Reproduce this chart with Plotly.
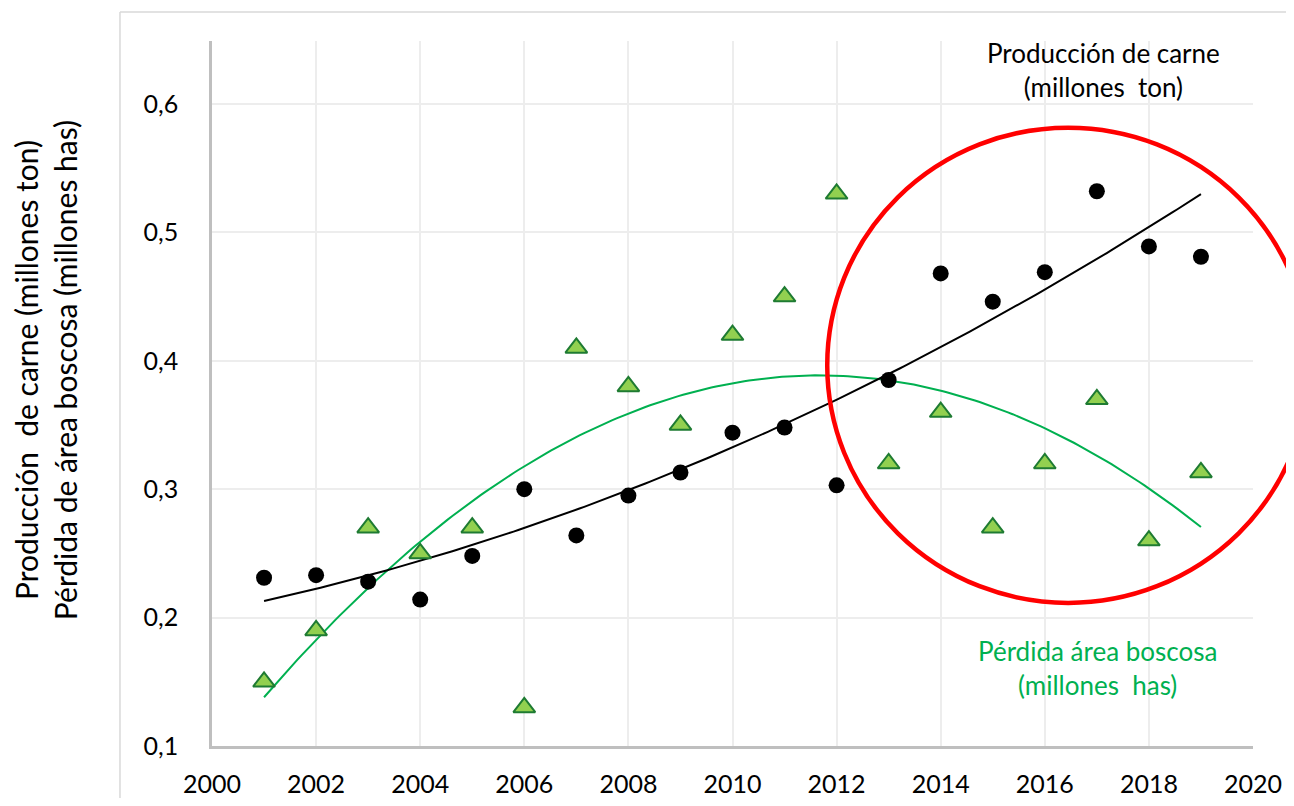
import numpy as np
import plotly.graph_objects as go

# Datos
years = [2001, 2002, 2003, 2004, 2005, 2006, 2007, 2008, 2009, 2010,
         2011, 2012, 2013, 2014, 2015, 2016, 2017, 2018, 2019]

carne = [0.231, 0.233, 0.228, 0.214, 0.248, 0.300, 0.264, 0.295, 0.313, 0.344,
         0.348, 0.303, 0.385, 0.468, 0.446, 0.469, 0.532, 0.489, 0.481]

bosque = [0.150, 0.190, 0.270, 0.250, 0.270, 0.130, 0.410, 0.380, 0.350, 0.420,
          0.450, 0.530, 0.320, 0.360, 0.270, 0.320, 0.370, 0.260, 0.313]

x_ticks = [2000, 2002, 2004, 2006, 2008, 2010, 2012, 2014, 2016, 2018, 2020]
y_ticks = [0.1, 0.2, 0.3, 0.4, 0.5, 0.6]

COLORS = {
    "black": "#000000",
    "green_line": "#00B050",
    "green_fill": "#92D050",
    "green_edge": "#1E7B32",
    "red": "#FF0000",
    "grid": "#EDEDED",
    "axis": "#BFBFBF",
    "border": "#D9D9D9",
}
FONT = "Lato, 'Open Sans', sans-serif"

# Líneas de tendencia polinómicas (orden 2), como en Excel
x_fit = np.linspace(years[0], years[-1], 200)
carne_fit = np.polyval(np.polyfit(years, carne, 2), x_fit)
bosque_fit = np.polyval(np.polyfit(years, bosque, 2), x_fit)

fig = go.Figure()

fig.add_trace(go.Scatter(
    x=x_fit, y=bosque_fit, mode="lines",
    line=dict(color=COLORS["green_line"], width=2),
    hoverinfo="skip",
))
fig.add_trace(go.Scatter(
    x=x_fit, y=carne_fit, mode="lines",
    line=dict(color=COLORS["black"], width=2),
    hoverinfo="skip",
))
fig.add_trace(go.Scatter(
    x=years, y=bosque, mode="markers",
    name="Pérdida área boscosa",
    marker=dict(symbol="triangle-up", size=19, color=COLORS["green_fill"],
                line=dict(color=COLORS["green_edge"], width=2)),
))
fig.add_trace(go.Scatter(
    x=years, y=carne, mode="markers",
    name="Producción de carne",
    marker=dict(symbol="circle", size=16, color=COLORS["black"]),
))

# Borde del área del gráfico (solo lados izquierdo y superior son visibles)
fig.add_shape(type="line", xref="paper", yref="paper",
              x0=-0.0884, x1=-0.0884, y0=-0.3, y1=1.041,
              line=dict(color=COLORS["border"], width=1.5), layer="below")
fig.add_shape(type="line", xref="paper", yref="paper",
              x0=-0.0884, x1=1.3, y0=1.041, y1=1.041,
              line=dict(color=COLORS["border"], width=1.5), layer="below")

# Círculo rojo
fig.add_shape(type="circle", xref="paper", yref="paper",
              x0=0.591, x1=1.054, y0=0.203, y1=0.877,
              line=dict(color=COLORS["red"], width=4.5), layer="above")

fig.add_annotation(
    text="Producción de carne<br>(millones  ton)",
    xref="paper", yref="paper", x=0.856, y=0.959,
    xanchor="center", yanchor="middle",
    showarrow=False, align="center",
    font=dict(size=26, color=COLORS["black"], family=FONT),
)
fig.add_annotation(
    text="Pérdida área boscosa<br>(millones  has)",
    xref="paper", yref="paper", x=0.851, y=0.111,
    xanchor="center", yanchor="middle",
    showarrow=False, align="center",
    font=dict(size=26, color=COLORS["green_line"], family=FONT),
)
fig.add_annotation(
    text="Producción  de carne (millones ton)<br>Pérdida de área boscosa (millones has)",
    xref="paper", yref="paper", x=-0.1605, y=0.533,
    xanchor="center", yanchor="middle",
    textangle=-90, showarrow=False, align="center",
    font=dict(size=30, color=COLORS["black"], family=FONT),
)

fig.update_layout(
    width=1286, height=790,
    paper_bgcolor="white", plot_bgcolor="white",
    margin=dict(l=204, r=41, t=33, b=52),
    showlegend=False,
    separators=",.",
    font=dict(family=FONT, size=25, color=COLORS["black"]),
)
fig.update_xaxes(
    range=[2000, 2020], tickvals=x_ticks, ticktext=[str(v) for v in x_ticks],
    showgrid=True, gridcolor=COLORS["grid"], gridwidth=1.5,
    showline=True, linecolor=COLORS["axis"], linewidth=2.5,
    zeroline=False, ticks="", ticklabelstandoff=14, automargin=False,
)
fig.update_yaxes(
    range=[0.1, 0.649], tickvals=y_ticks, ticktext=[f"{v:.1f}".replace(".", ",") for v in y_ticks],
    showgrid=True, gridcolor=COLORS["grid"], gridwidth=1.5,
    showline=True, linecolor=COLORS["axis"], linewidth=2.5,
    zeroline=False, ticks="", ticklabelstandoff=26, automargin=False,
)

fig.write_html("out.html")
